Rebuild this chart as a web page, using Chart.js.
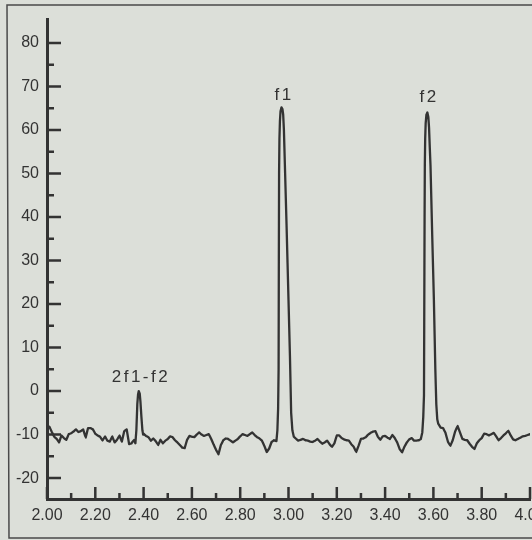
<!DOCTYPE html>
<html>
<head>
<meta charset="utf-8">
<script src="https://cdn.jsdelivr.net/npm/chart.js@4.4.0/dist/chart.umd.min.js"></script>
<style>
  html, body { margin: 0; padding: 0; background: #dcdfd9; }
</style>
</head>
<body>
<canvas id="chart" width="532" height="540"></canvas>
<script>
// ---- data ----
// noise floor, one value every 0.01 from each segment start
const floorStart = [2.00, 2.40, 3.03, 3.63];
const floor1 = [-8.5, -8.2, -9.4, -10.5, -11.0, -11.8, -10.2, -10.8, -11.2, -9.9,
  -9.7, -9.3, -8.8, -9.4, -9.2, -8.8, -10.7, -8.5, -8.5, -8.8,
  -9.8, -10.2, -10.5, -11.4, -10.4, -11.4, -11.6, -10.4, -11.8, -11.2,
  -10.2, -11.6, -9.2, -8.8, -12.2, -12.0, -11.2];
const floor2 = [-9.8, -10.3, -10.6, -11.4, -10.9, -11.5, -12.4, -11.2, -12.0,
  -11.4, -11.0, -10.4, -10.6, -11.3, -11.8, -12.4, -13.0, -13.1, -11.2,
  -10.3, -10.5, -10.6, -10.0, -9.5, -10.0, -10.3, -10.1, -9.9, -11.0,
  -12.3, -13.5, -14.5, -12.4, -11.3, -10.9, -11.0, -11.4, -11.8, -11.4,
  -11.0, -10.4, -9.9, -10.1, -10.3, -9.9, -9.5, -10.1, -10.6, -10.9,
  -11.4, -12.6, -14.0, -13.2, -11.7, -11.3];
const floor3 = [-10.9, -11.4, -11.2, -11.0, -11.3, -11.4, -11.6, -11.7, -11.4, -11.0,
  -11.6, -12.1, -11.8, -11.4, -12.2, -12.8, -12.0, -10.2, -10.2, -10.8,
  -11.1, -11.3, -11.4, -12.2, -12.8, -14.0, -12.6, -11.0, -10.9, -10.6,
  -10.0, -9.6, -9.3, -9.2, -10.5, -11.2, -10.4, -10.3, -10.7, -11.0,
  -10.1, -10.8, -11.8, -13.3, -14.1, -12.8, -11.8, -11.1, -10.8, -11.4,
  -11.4, -11.3];
const floor4 = [-8.4, -8.5, -9.6, -11.6, -12.6, -11.3, -9.3, -8.0, -9.5, -11.0,
  -11.2, -11.3, -12.1, -12.8, -13.3, -12.0, -11.3, -10.8, -9.8, -9.9,
  -10.2, -9.9, -9.6, -10.4, -11.3, -10.8, -10.2, -9.7, -9.1, -10.2,
  -11.1, -11.3, -11.0, -10.7, -10.4, -10.3, -10.1, -9.9];

// peaks as [frequency, level]
const peakIM = [[2.366, -12], [2.370, -9], [2.374, -3], [2.377, -0.8], [2.380, 0],
  [2.384, -0.6], [2.387, -2.5], [2.391, -6], [2.395, -9], [2.398, -10]];
const peakF1 = [[2.950, -11.5], [2.954, -9], [2.957, -4], [2.959, 5], [2.960, 30],
  [2.961, 50], [2.9625, 58], [2.9645, 62], [2.967, 64.3], [2.971, 65.2], [2.975, 64.8],
  [2.978, 63.5], [2.981, 60], [2.985, 52], [2.992, 38], [3.000, 21], [3.006, 8],
  [3.011, -5], [3.016, -9], [3.022, -10.5]];
const peakF2 = [[3.548, -11], [3.554, -9.5], [3.558, -6], [3.561, -1], [3.562, 15],
  [3.5635, 40], [3.5645, 52], [3.566, 58], [3.568, 61.5], [3.571, 63.5], [3.575, 64],
  [3.579, 63], [3.582, 60.5], [3.585, 56], [3.588, 51.8], [3.595, 36], [3.602, 21],
  [3.608, 5], [3.612, -3], [3.616, -6.5], [3.620, -7.5]];

const peakNames = ["2f1-f2", "f1", "f2"];
const peakNameX = [2.385, 2.978, 3.578];
const peakNameY = [3.1, 67.9, 67.6];

const xTicks = [2.0, 2.2, 2.4, 2.6, 2.8, 3.0, 3.2, 3.4, 3.6, 3.8, 4.0];
const yTicks = [-20, -10, 0, 10, 20, 30, 40, 50, 60, 70, 80];

// ---- build the trace ----
const trace = [];
[floor1, floor2, floor3, floor4].forEach((seg, s) => {
  seg.forEach((v, i) => trace.push({ x: +(floorStart[s] + i * 0.01).toFixed(3), y: v }));
});
[peakIM, peakF1, peakF2].forEach(p => p.forEach(([x, y]) => trace.push({ x, y })));
trace.sort((a, b) => a.x - b.x);

const ink = "#333333";
const paper = "#dcdfd9";
const font = { family: "'Liberation Sans', Arial, sans-serif", size: 16 };

// inward tick marks, frame and peak names
const decor = {
  id: "decor",
  beforeDraw(chart) {
    const ctx = chart.ctx;
    ctx.save();
    ctx.fillStyle = paper;
    ctx.fillRect(0, 0, chart.width, chart.height);
    ctx.strokeStyle = "#4a4a4a";
    ctx.lineWidth = 1.5;
    ctx.beginPath();
    ctx.moveTo(chart.width + 5, 5);
    ctx.lineTo(7, 5);
    ctx.lineTo(9, 538);
    ctx.lineTo(chart.width + 5, 538);
    ctx.stroke();
    ctx.restore();
  },
  afterDraw(chart) {
    const ctx = chart.ctx;
    const xs = chart.scales.x, ys = chart.scales.y;
    const a = chart.chartArea;
    ctx.save();
    ctx.strokeStyle = ink;
    ctx.lineWidth = 2.5;
    ctx.beginPath();
    xTicks.forEach((v, i) => {
      const p = xs.getPixelForValue(v);
      ctx.moveTo(p, a.bottom); ctx.lineTo(p, a.bottom - 12);
      if (i < xTicks.length - 1) {
        const m = xs.getPixelForValue(v + 0.1);
        ctx.moveTo(m, a.bottom); ctx.lineTo(m, a.bottom - 6);
      }
    });
    yTicks.forEach((v, i) => {
      const p = ys.getPixelForValue(v);
      ctx.moveTo(a.left, p); ctx.lineTo(a.left + 14, p);
      if (i < yTicks.length - 1) {
        const m = ys.getPixelForValue(v + 5);
        ctx.moveTo(a.left, m); ctx.lineTo(a.left + 7, m);
      }
    });
    ctx.stroke();

    ctx.fillStyle = ink;
    ctx.font = `17px ${font.family}`;
    ctx.letterSpacing = "2.5px";
    ctx.textAlign = "center";
    ctx.textBaseline = "middle";
    peakNames.forEach((t, i) => {
      ctx.fillText(t, xs.getPixelForValue(peakNameX[i]) + 1, ys.getPixelForValue(peakNameY[i]));
    });
    ctx.restore();
  }
};

new Chart(document.getElementById("chart"), {
  type: "line",
  data: {
    datasets: [{
      data: trace,
      borderColor: ink,
      borderWidth: 2.3,
      borderJoinStyle: "round",
      borderCapStyle: "round",
      pointRadius: 0,
      tension: 0.001,   // avoids the fast path that merges points sharing a pixel column
      fill: false
    }]
  },
  options: {
    responsive: false,
    animation: false,
    devicePixelRatio: 1,
    layout: { padding: { top: 19, right: 2, left: 0, bottom: 0 } },
    plugins: { legend: { display: false }, tooltip: { enabled: false } },
    scales: {
      x: {
        type: "linear",
        min: 2,
        max: 4,
        afterBuildTicks: s => { s.ticks = xTicks.map(v => ({ value: v })); },
        afterFit: s => { s.height = 41; s.paddingLeft = 0; s.paddingRight = 0; },
        ticks: {
          autoSkip: false,
          maxRotation: 0,
          padding: 7,
          color: ink,
          font: font,
          callback: v => v.toFixed(2)
        },
        grid: { display: true, drawOnChartArea: false, drawTicks: false },
        border: { display: true, color: ink, width: 3 }
      },
      y: {
        min: -24.8,
        max: 85.5,
        afterBuildTicks: s => { s.ticks = yTicks.map(v => ({ value: v })); },
        afterFit: s => { s.width = 47; s.paddingTop = 0; s.paddingBottom = 0; },
        ticks: {
          padding: 8,
          color: ink,
          font: font,
          callback: v => String(v)
        },
        grid: { display: true, drawOnChartArea: false, drawTicks: false },
        border: { display: true, color: ink, width: 3 }
      }
    }
  },
  plugins: [decor]
});
</script>
</body>
</html>
